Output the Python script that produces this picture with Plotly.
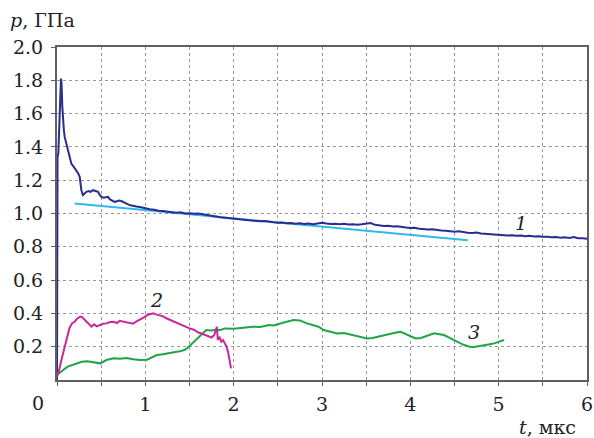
import plotly.graph_objects as go

# ---------------- data ----------------
t1 = [0, 0.003, 0.006, 0.015, 0.025, 0.035, 0.045, 0.052, 0.06, 0.068, 0.078, 0.087, 0.1, 0.125,
      0.145, 0.162, 0.19, 0.219, 0.24, 0.257, 0.266, 0.276, 0.294, 0.31, 0.332, 0.36, 0.38, 0.408,
      0.43, 0.464, 0.48, 0.502, 0.53, 0.555, 0.577, 0.60, 0.63, 0.653, 0.68, 0.70, 0.728, 0.76,
      0.804, 0.83, 0.86, 0.9, 0.95, 1.0, 1.05, 1.1, 1.15, 1.2, 1.25, 1.3, 1.35, 1.4, 1.45, 1.5,
      1.55, 1.6, 1.65, 1.7, 1.75, 1.8, 1.85, 1.9, 1.95,
      2.00, 2.05, 2.10, 2.15, 2.20, 2.25, 2.30, 2.35, 2.40, 2.45, 2.50, 2.55, 2.60, 2.65, 2.70,
      2.75, 2.80, 2.85, 2.90, 2.95, 3.00, 3.05, 3.10, 3.15, 3.20, 3.25, 3.30, 3.35, 3.40, 3.45,
      3.50, 3.55, 3.60, 3.65, 3.70, 3.75, 3.80, 3.85, 3.90, 3.95, 4.00, 4.05, 4.10, 4.15, 4.20,
      4.25, 4.30, 4.35, 4.40, 4.45, 4.50, 4.55, 4.60, 4.65, 4.70, 4.75, 4.80, 4.85, 4.90, 4.95,
      5.00, 5.05, 5.10, 5.15, 5.20, 5.25, 5.30, 5.35, 5.40, 5.45, 5.50, 5.55, 5.60, 5.65, 5.70,
      5.75, 5.80, 5.85, 5.90, 5.95, 6.00]
p1 = [0.0, 0.6, 1.34, 1.36, 1.62, 1.66, 1.81, 1.78, 1.64, 1.56, 1.50, 1.46, 1.43, 1.38,
      1.33, 1.30, 1.28, 1.26, 1.24, 1.22, 1.18, 1.14, 1.11, 1.12, 1.13, 1.135, 1.13, 1.14,
      1.135, 1.13, 1.115, 1.10, 1.095, 1.10, 1.10, 1.085, 1.075, 1.07, 1.073, 1.078, 1.075, 1.065,
      1.055, 1.05, 1.048, 1.042, 1.037, 1.03, 1.025, 1.022, 1.016, 1.015, 1.01, 1.008, 1.005, 1.007,
      1.0, 1.002, 0.998, 1.0, 0.995, 0.99, 0.985, 0.982, 0.978, 0.975, 0.972,
      0.970, 0.968, 0.962, 0.963, 0.958, 0.956, 0.953, 0.955, 0.949, 0.947, 0.944, 0.946, 0.941,
      0.943, 0.939, 0.941, 0.937, 0.940, 0.936, 0.938, 0.944, 0.940, 0.937, 0.939, 0.935, 0.938,
      0.934, 0.936, 0.932, 0.935, 0.937, 0.943, 0.932, 0.928, 0.925, 0.927, 0.922, 0.924, 0.918,
      0.916, 0.913, 0.914, 0.909, 0.906, 0.904, 0.905, 0.900, 0.898, 0.896, 0.893, 0.891, 0.893,
      0.888, 0.885, 0.883, 0.886, 0.880, 0.878, 0.876, 0.873, 0.871, 0.873, 0.868, 0.870, 0.866,
      0.868, 0.864, 0.866, 0.862, 0.864, 0.860, 0.861, 0.857, 0.859, 0.855, 0.857, 0.853, 0.858,
      0.852, 0.851, 0.848]

t_fit = [0.2, 4.65]
p_fit = [1.06, 0.84]

t2 = [0, 0.02, 0.05, 0.08, 0.11, 0.14, 0.17, 0.2, 0.23, 0.26, 0.28, 0.31, 0.34, 0.37, 0.39,
      0.42, 0.45, 0.49, 0.52, 0.56, 0.6, 0.64, 0.68, 0.71, 0.75, 0.8, 0.86, 0.9, 0.93, 0.96,
      0.99, 1.03, 1.06, 1.09, 1.12, 1.16, 1.2, 1.25, 1.3, 1.35, 1.4, 1.45, 1.5, 1.55, 1.6,
      1.65, 1.7, 1.75, 1.78, 1.8, 1.81, 1.82, 1.84, 1.86, 1.88, 1.9, 1.92, 1.94, 1.96, 1.97]
p2 = [0.02, 0.05, 0.12, 0.19, 0.26, 0.31, 0.34, 0.35, 0.37, 0.38, 0.38, 0.365, 0.35, 0.33, 0.32,
      0.335, 0.322, 0.33, 0.338, 0.34, 0.348, 0.35, 0.342, 0.356, 0.35, 0.345, 0.338, 0.352, 0.36, 0.372,
      0.378, 0.392, 0.395, 0.40, 0.394, 0.39, 0.382, 0.368, 0.356, 0.345, 0.335, 0.324, 0.31, 0.302, 0.285,
      0.276, 0.264, 0.255, 0.27, 0.30, 0.32, 0.24, 0.26, 0.23, 0.24, 0.22, 0.2, 0.16, 0.11, 0.07]

t3 = [0, 0.04, 0.07, 0.12, 0.17, 0.22, 0.28, 0.34, 0.41, 0.49, 0.56, 0.64, 0.71, 0.79, 0.86,
      0.94, 1.02, 1.08, 1.13, 1.2, 1.28, 1.34, 1.39, 1.44, 1.47, 1.51, 1.54, 1.58, 1.62, 1.66,
      1.69, 1.75, 1.8, 1.85, 1.9, 2.0, 2.1, 2.22, 2.3, 2.4, 2.45, 2.52, 2.6, 2.68, 2.75, 2.83,
      2.9, 2.96, 3.02, 3.1, 3.17, 3.25, 3.36, 3.44, 3.51, 3.57, 3.63, 3.7, 3.78, 3.84, 3.89,
      3.94, 4.0, 4.06, 4.12, 4.2, 4.27, 4.33, 4.38, 4.44, 4.49, 4.55, 4.61, 4.67, 4.72, 4.78,
      4.83, 4.9, 4.95, 5.0, 5.06]
p3 = [0.03, 0.05, 0.06, 0.08, 0.09, 0.10, 0.11, 0.112, 0.108, 0.10, 0.12, 0.13, 0.128, 0.132, 0.125,
      0.12, 0.122, 0.135, 0.15, 0.155, 0.16, 0.168, 0.172, 0.18, 0.19, 0.21, 0.23, 0.25, 0.27, 0.29,
      0.30, 0.298, 0.302, 0.30, 0.31, 0.308, 0.315, 0.32, 0.318, 0.33, 0.328, 0.34, 0.35, 0.36, 0.358, 0.34,
      0.33, 0.32, 0.30, 0.29, 0.28, 0.282, 0.27, 0.26, 0.25, 0.252, 0.26, 0.27, 0.28, 0.285, 0.29,
      0.278, 0.26, 0.25, 0.252, 0.265, 0.28, 0.275, 0.27, 0.255, 0.24, 0.225, 0.21, 0.20, 0.198, 0.205,
      0.21, 0.215, 0.22, 0.23, 0.24]

x_tick_vals = [0, 0.5, 1, 1.5, 2, 2.5, 3, 3.5, 4, 4.5, 5, 5.5, 6]
x_tick_text = ["", "", "1", "", "2", "", "3", "", "4", "", "5", "", "6"]
y_tick_vals = [0.2, 0.4, 0.6, 0.8, 1.0, 1.2, 1.4, 1.6, 1.8, 2.0]
y_tick_text = ["0.2", "0.4", "0.6", "0.8", "1.0", "1.2", "1.4", "1.6", "1.8", "2.0"]

curve_labels = ["1", "2", "3"]
label_t = [5.25, 1.13, 4.72]
label_p = [0.94, 0.48, 0.29]

# ---------------- figure ----------------
FONT = "DejaVu Serif"
fig = go.Figure()
fig.add_trace(go.Scatter(x=t_fit, y=p_fit, mode="lines",
                         line=dict(color="#2fb8ec", width=2), hoverinfo="skip"))
fig.add_trace(go.Scatter(x=t1, y=p1, mode="lines",
                         line=dict(color="#2b2d8e", width=2)))
fig.add_trace(go.Scatter(x=t3, y=p3, mode="lines",
                         line=dict(color="#1fa548", width=2)))
fig.add_trace(go.Scatter(x=t2, y=p2, mode="lines",
                         line=dict(color="#c8289a", width=2)))

for lab, xx, yy in zip(curve_labels, label_t, label_p):
    fig.add_annotation(x=xx, y=yy, text="<i>%s</i>" % lab, showarrow=False,
                       font=dict(family=FONT, size=19, color="#222"))

W, H = 594, 438
L, R, T, B = 57, 7, 47, 58
pw, ph = W - L - R, H - T - B

def px2paper(px, py):
    return (px - L) / pw, (H - B - py) / ph

ax, ay = px2paper(8, 20)
fig.add_annotation(x=ax, y=ay, xref="paper", yref="paper", xanchor="left", yanchor="middle",
                   text="<i>p</i>, ГПа", showarrow=False,
                   font=dict(family=FONT, size=19, color="#222"))
ax, ay = px2paper(578, 427)
fig.add_annotation(x=ax, y=ay, xref="paper", yref="paper", xanchor="right", yanchor="middle",
                   text="<i>t</i>, мкс", showarrow=False,
                   font=dict(family=FONT, size=19, color="#222"))
ax, ay = px2paper(37.5, 403)
fig.add_annotation(x=ax, y=ay, xref="paper", yref="paper", xanchor="center", yanchor="middle",
                   text="0", showarrow=False,
                   font=dict(family=FONT, size=19, color="#222"))

fig.update_layout(
    width=W, height=H,
    margin=dict(l=L, r=R, t=T, b=B, autoexpand=False),
    paper_bgcolor="white", plot_bgcolor="white",
    showlegend=False,
    font=dict(family=FONT, size=19, color="#222"),
)
axis_common = dict(
    showgrid=True, gridcolor="#999999", griddash="dot", gridwidth=1,
    showline=True, linecolor="#606060", linewidth=2, mirror=True,
    ticks="outside", ticklen=4, tickcolor="#606060", tickwidth=1,
    zeroline=False,
    tickfont=dict(family=FONT, size=19, color="#222"),
)
fig.update_xaxes(range=[0, 6], tickvals=x_tick_vals, ticktext=x_tick_text,
                 ticklabelstandoff=2, **axis_common)
fig.update_yaxes(range=[0, 2], tickvals=y_tick_vals, ticktext=y_tick_text,
                 ticklabelstandoff=4, **axis_common)

fig.write_html("out.html", config={"displayModeBar": False},
               post_script="document.body.style.margin='0';")
